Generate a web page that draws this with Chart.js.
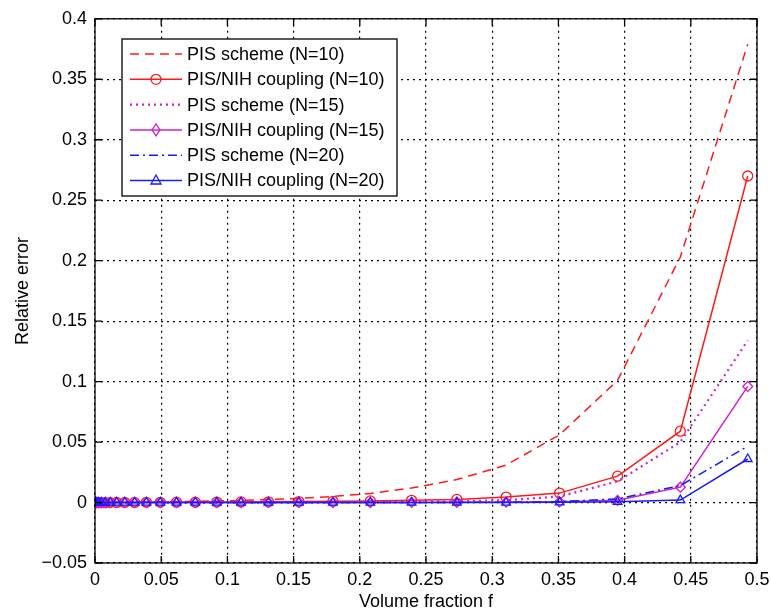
<!DOCTYPE html>
<html>
<head>
<meta charset="utf-8">
<script src="https://cdn.jsdelivr.net/npm/chart.js@4.4.1/dist/chart.umd.min.js"></script>
<style>
  html, body { margin: 0; padding: 0; background: #fff; }
  #wrap { width: 771px; height: 615px; }
</style>
</head>
<body>
<div id="wrap"><canvas id="c" width="771" height="615"></canvas></div>
<script>
// x values (volume fraction f), shared by all series
const volumeFraction = [0.00002, 0.00018, 0.0006, 0.0014, 0.0028, 0.0049, 0.0077, 0.0115, 0.0164, 0.0225,
  0.0299, 0.0388, 0.0493, 0.0616, 0.0758, 0.0920, 0.1103, 0.1310, 0.1540, 0.1797,
  0.2080, 0.2391, 0.2733, 0.3105, 0.3509, 0.3947, 0.4421, 0.4930];

// relative error per series
const pisN10 = [0, 0, 0, 0, 0, 0, 0.0001, 0.0002, 0.0002, 0.0003,
  0.0004, 0.0005, 0.0006, 0.0008, 0.0010, 0.0013, 0.0018, 0.0025, 0.0035, 0.0050,
  0.0075, 0.0120, 0.0190, 0.0310, 0.0560, 0.1010, 0.2030, 0.3790];
const couplingN10 = [0, 0, 0, 0, 0, 0, 0, 0, 0.0001, 0.0001,
  0.0001, 0.0002, 0.0002, 0.0003, 0.0003, 0.0004, 0.0005, 0.0006, 0.0008, 0.0010,
  0.0013, 0.0018, 0.0026, 0.0045, 0.0078, 0.0218, 0.0590, 0.2700];
const pisN15 = [0, 0, 0, 0, 0, 0, 0, 0, 0, 0,
  0, 0, 0, 0, 0, 0, 0, 0, 0.0001, 0.0002,
  0.0003, 0.0005, 0.0009, 0.0019, 0.0050, 0.0175, 0.0500, 0.1340];
const couplingN15 = [0, 0, 0, 0, 0, 0, 0, 0, 0, 0,
  0, 0, 0, 0, 0, 0, 0, 0, 0, 0,
  0, 0.0001, 0.0002, 0.0003, 0.0006, 0.0018, 0.0127, 0.0960];
const pisN20 = [0, 0, 0, 0, 0, 0, 0, 0, 0, 0,
  0, 0, 0, 0, 0, 0, 0, 0, 0, 0,
  0, 0, 0.0001, 0.0003, 0.0008, 0.0030, 0.0140, 0.0466];
const couplingN20 = [0, 0, 0, 0, 0, 0, 0, 0, 0, 0,
  0, 0, 0, 0, 0, 0, 0, 0, 0, 0,
  0, 0, 0, 0, 0.0002, 0.0006, 0.0020, 0.0360];

const seriesLabels = ["PIS scheme (N=10)", "PIS/NIH coupling (N=10)", "PIS scheme (N=15)",
  "PIS/NIH coupling (N=15)", "PIS scheme (N=20)", "PIS/NIH coupling (N=20)"];

const xRange = [0, 0.5];
const yRange = [-0.05, 0.4];
const tickStep = 0.05;

const FONT = "'Liberation Sans', Arial, Helvetica, sans-serif";
const RED = "#ff1a1a", MAG = "#cc22cc", BLUE = "#1a1aff";

const pts = (ys) => ys.map((y, i) => ({ x: volumeFraction[i], y }));

function drawMarker(ctx, style, x, y, r, color) {
  ctx.save();
  ctx.strokeStyle = color;
  ctx.lineWidth = 1.3;
  ctx.setLineDash([]);
  ctx.beginPath();
  if (style === "circle") {
    ctx.arc(x, y, r, 0, Math.PI * 2);
  } else if (style === "rectRot") {
    ctx.moveTo(x, y - r * 1.2); ctx.lineTo(x + r * 0.8, y);
    ctx.lineTo(x, y + r * 1.2); ctx.lineTo(x - r * 0.8, y); ctx.closePath();
  } else if (style === "triangle") {
    ctx.moveTo(x, y - r * 1.1); ctx.lineTo(x + r, y + r * 0.7);
    ctx.lineTo(x - r, y + r * 0.7); ctx.closePath();
  }
  ctx.stroke();
  ctx.restore();
}

/* box around the plot + inward ticks */
const framePlugin = {
  id: "frame",
  afterDraw(chart) {
    const { ctx, chartArea: a } = chart;
    const xs = chart.scales.x, ys = chart.scales.y;
    ctx.save();
    ctx.strokeStyle = "#000";
    ctx.lineWidth = 1.3;
    ctx.strokeRect(a.left, a.top, a.right - a.left, a.bottom - a.top);
    ctx.beginPath();
    xs.ticks.forEach(t => {
      const px = xs.getPixelForValue(t.value);
      ctx.moveTo(px, a.bottom); ctx.lineTo(px, a.bottom - 7);
      ctx.moveTo(px, a.top); ctx.lineTo(px, a.top + 7);
    });
    ys.ticks.forEach(t => {
      const py = ys.getPixelForValue(t.value);
      ctx.moveTo(a.left, py); ctx.lineTo(a.left + 7, py);
      ctx.moveTo(a.right, py); ctx.lineTo(a.right - 7, py);
    });
    ctx.stroke();
    ctx.restore();
  },
};

/* MATLAB style legend box */
const legendPlugin = {
  id: "legendBox",
  afterDraw(chart) {
    const ctx = chart.ctx;
    const x0 = 122, y0 = 39, w = 275, h = 157;
    ctx.save();
    ctx.fillStyle = "#fff";
    ctx.fillRect(x0, y0, w, h);
    ctx.strokeStyle = "#000";
    ctx.lineWidth = 1.3;
    ctx.strokeRect(x0, y0, w, h);
    ctx.font = "18px " + FONT;
    ctx.textBaseline = "middle";
    ctx.textAlign = "left";
    chart.data.datasets.forEach((ds, i) => {
      const y = y0 + 15 + i * 25.3;
      ctx.strokeStyle = ds.borderColor;
      ctx.lineWidth = ds.borderWidth;
      ctx.setLineDash(ds.borderDash || []);
      ctx.beginPath();
      ctx.moveTo(130, y);
      ctx.lineTo(182, y);
      ctx.stroke();
      ctx.setLineDash([]);
      if (ds.pointRadius > 0) drawMarker(ctx, ds.pointStyle, 156, y, ds.pointRadius, ds.borderColor);
      ctx.fillStyle = "#000";
      ctx.fillText(ds.label, 187, y + 1);
    });
    ctx.restore();
  },
};

const fmt = (v) => {
  const s = String(Number(v.toFixed(2)));
  return s.replace("-", "\u2212");
};

const lineDs = (label, data, color, dash, width, marker, order) => ({
  label,
  data: pts(data),
  borderColor: color,
  backgroundColor: "rgba(0,0,0,0)",
  borderWidth: width,
  borderDash: dash,
  pointStyle: marker || "circle",
  pointRadius: marker ? 5 : 0,
  pointBorderWidth: 1.3,
  pointBackgroundColor: "rgba(0,0,0,0)",
  pointBorderColor: color,
  tension: 0,
  order,
});

new Chart(document.getElementById("c"), {
  type: "line",
  data: {
    datasets: [
      lineDs(seriesLabels[0], pisN10, RED, [9, 6], 1.5, null, 5),
      lineDs(seriesLabels[1], couplingN10, RED, [], 1.5, "circle", 4),
      lineDs(seriesLabels[2], pisN15, MAG, [2, 4], 2.2, null, 3),
      lineDs(seriesLabels[3], couplingN15, MAG, [], 1.5, "rectRot", 2),
      lineDs(seriesLabels[4], pisN20, BLUE, [9, 4, 2, 4], 1.5, null, 1),
      lineDs(seriesLabels[5], couplingN20, BLUE, [], 1.5, "triangle", 0),
    ],
  },
  options: {
    responsive: false,
    devicePixelRatio: 1,
    animation: false,
    layout: { padding: { top: 18, right: 14, bottom: 0, left: 0 } },
    plugins: {
      legend: { display: false },
      tooltip: { enabled: false },
    },
    scales: {
      x: {
        type: "linear",
        min: xRange[0],
        max: xRange[1],
        afterFit(scale) {
          scale.height = 52;
          scale.paddingRight = 0;
          scale.paddingLeft = 0;
        },
        ticks: {
          stepSize: tickStep,
          color: "#000",
          font: { family: FONT, size: 18 },
          padding: 6,
          maxRotation: 0,
          callback: (v) => fmt(v),
        },
        grid: { color: "#000", lineWidth: 1.2, drawTicks: false },
        border: { display: false, dash: [2, 4] },
        title: {
          display: true,
          text: "Volume fraction f",
          color: "#000",
          font: { family: FONT, size: 18 },
          padding: { top: 0, bottom: 2 },
        },
      },
      y: {
        type: "linear",
        min: yRange[0],
        max: yRange[1],
        afterFit(scale) { scale.width = 95; },
        ticks: {
          stepSize: tickStep,
          color: "#000",
          font: { family: FONT, size: 18 },
          padding: 8,
          callback: (v) => fmt(v),
        },
        grid: { color: "#000", lineWidth: 1.2, drawTicks: false },
        border: { display: false, dash: [2, 4] },
        title: {
          display: true,
          text: "Relative error",
          color: "#000",
          font: { family: FONT, size: 18 },
          padding: { top: 12, bottom: 0 },
        },
      },
    },
  },
  plugins: [framePlugin, legendPlugin],
});
</script>
</body>
</html>
